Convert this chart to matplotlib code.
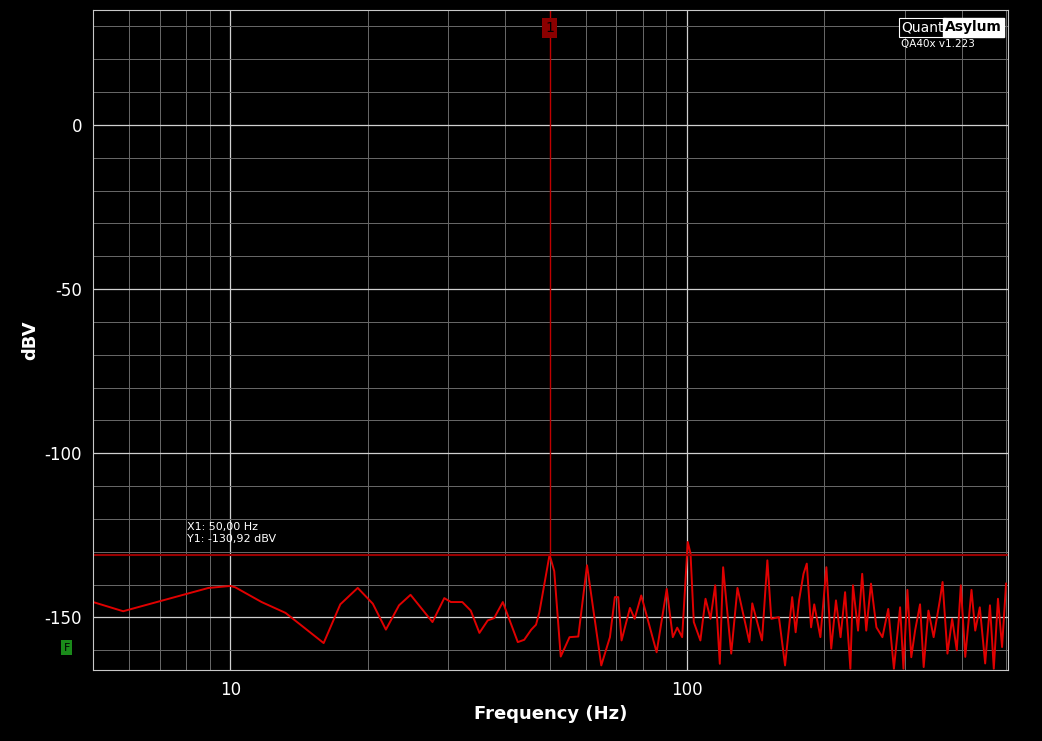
import matplotlib.pyplot as plt
from matplotlib.ticker import FixedLocator, NullFormatter

plt.rcParams['axes.unicode_minus'] = False

# spectrum (Hz, dBV)
freq = [5, 5.82, 8.95, 10.0, 10.24, 11.7, 13.2, 16.0, 17.4, 19.0, 20.5, 21.9, 23.4, 24.8,
        27.7, 29.4, 30.4, 32.2, 33.6, 35.1, 36.6, 37.8, 39.5, 42.6, 44.0, 45.6, 46.7, 47.5,
        50.0, 51.2, 52.9, 55.3, 57.8, 60.4, 64.9, 67.8, 69.5, 70.7, 71.9, 75.0, 76.8, 79.4,
        85.8, 90.3, 93.1, 95.2, 97.6, 100.4, 101.8, 103.5, 107, 109.8, 112.6, 115.3, 118,
        120, 125, 129, 137, 139, 146, 150, 153, 159, 164, 170, 173, 176, 180, 183, 187, 190,
        196, 202, 207, 212, 217, 222, 228, 231, 237, 242, 247, 253, 260, 268, 276, 284, 293,
        298, 304, 310, 316, 324, 330, 338, 347, 358, 363, 372, 381, 390, 398, 407, 420, 428,
        438, 450, 461, 470, 480, 490, 500]
dbv = [-145.3, -148.1, -141.0, -140.4, -140.8, -145.3, -148.6, -157.8, -146.0, -141.0,
       -145.8, -153.7, -146.3, -143.1, -151.4, -144.1, -145.3, -145.3, -147.9, -154.7,
       -150.9, -150.2, -145.3, -157.5, -156.8, -153.7, -152.2, -148.4,
       -130.9, -135.9, -161.9, -156.0, -155.8, -134.1, -164.6, -156.0, -143.8, -143.8,
       -157.0, -147.1, -150.4, -143.3, -160.6, -141.3, -156.0, -153.1, -156.0, -127.0,
       -130.5, -151.4, -157.0, -144.3, -150.4, -140.2, -164.1,
       -134.7, -161, -141, -157.5, -145.7, -157, -132.6, -150.4, -149.9, -164.6, -143.8,
       -154.5, -144.8, -136.7, -133.6, -153, -146, -156, -134.7, -159.5, -144.8, -156,
       -142.3, -165.6, -140.2, -154, -136.7, -154, -139.7, -153, -156, -147.4, -165.6,
       -146.9, -165.6, -141.6, -162.1, -154, -146, -165.1, -147.9, -156, -144.8, -139.2,
       -161, -150.4, -160, -140.2, -162, -141.6, -154, -146.9, -164, -146.3, -165.6,
       -144.3, -159, -139.7]

marker_f = 50.0
marker_db = -130.92

fig = plt.figure(figsize=(10.42, 7.41), dpi=100, facecolor='black')
ax = fig.add_axes([0.0893, 0.0958, 0.8781, 0.8907], facecolor='black')

ax.set_xscale('log')
ax.set_xlim(5, 505)
ax.set_ylim(-166, 35)

ax.xaxis.set_major_locator(FixedLocator([10, 100]))
ax.xaxis.set_minor_locator(FixedLocator([6, 7, 8, 9, 20, 30, 40, 50, 60, 70, 80, 90,
                                         200, 300, 400, 500]))
ax.xaxis.set_minor_formatter(NullFormatter())
ax.set_xticklabels(['10', '100'])
ax.yaxis.set_major_locator(FixedLocator([0, -50, -100, -150]))
ax.yaxis.set_minor_locator(FixedLocator(list(range(-160, 31, 10))))

ax.grid(True, which='major', color='#d0d0d0', lw=0.9)
ax.grid(True, which='minor', color='#6a6a6a', lw=0.7)
ax.tick_params(which='both', colors='white', labelsize=12, length=0, pad=8)
for s in ax.spines.values():
    s.set_color('#c8c8c8')

ax.set_xlabel('Frequency (Hz)', color='white', fontsize=13, fontweight='bold')
ax.set_ylabel('dBV', color='white', fontsize=13, fontweight='bold')

ax.plot(freq, dbv, color='#e00000', lw=1.4)

# marker lines
ax.axhline(marker_db, color='#9a0000', lw=1.5)
ax.plot([marker_f, marker_f], [marker_db, 35], color='#c00000', lw=1)
ax.text(marker_f, 29.5, '1', color='black', fontsize=10, ha='center', va='center',
        bbox=dict(boxstyle='square,pad=0.2', fc='#8b0000', ec='none'))
ax.text(8.05, -127.5, 'X1: 50,00 Hz\nY1: -130,92 dBV', color='white', fontsize=8,
        va='bottom', linespacing=1.2)

fig.text(0.064, 0.126, 'F', color='black', fontsize=8, ha='center', va='center',
         bbox=dict(boxstyle='square,pad=0.2', fc='#1a8a1a', ec='none'))

# logo
fig.text(0.906, 0.963, 'Quant', color='white', fontsize=10, ha='right', va='center',
         bbox=dict(boxstyle='square,pad=0.15', fc='black', ec='white', lw=0.8))
fig.text(0.907, 0.963, 'Asylum', color='black', fontsize=10, fontweight='bold',
         ha='left', va='center',
         bbox=dict(boxstyle='square,pad=0.15', fc='white', ec='white'))
fig.text(0.9, 0.94, 'QA40x v1.223', color='white', fontsize=7.5, ha='center', va='center')

fig.savefig('out.png', dpi=100, facecolor='black')
